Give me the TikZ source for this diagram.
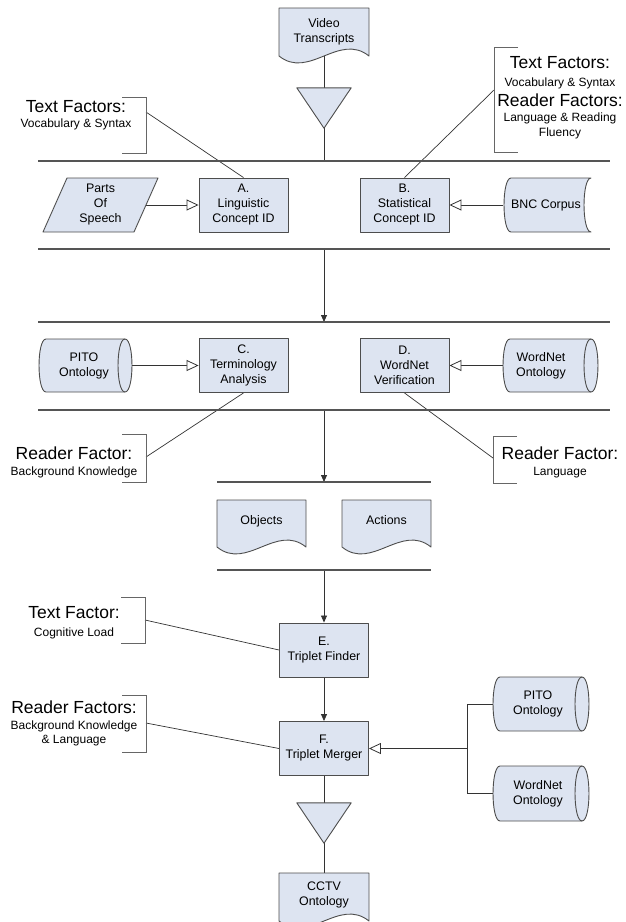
\documentclass[tikz,border=0pt]{standalone}
\usepackage{fontspec}
\setmainfont{Liberation Sans}
\usetikzlibrary{arrows.meta}
\definecolor{boxfill}{HTML}{DDE4F1}
\definecolor{boxedge}{HTML}{4D4D4D}
\definecolor{linec}{HTML}{333333}
\definecolor{sepc}{HTML}{555555}
\definecolor{brk}{HTML}{666666}
\pgfdeclarelayer{bg}
\pgfsetlayers{bg,main}
% direct access storage: xl, xr, yt, yb, r
\newcommand{\dasshape}[5]{%
  \path[shp] (#1,#3) -- (#2,#3) .. controls ({#2+1.33*#5},#3) and ({#2+1.33*#5},#4) .. (#2,#4)
    -- (#1,#4) .. controls ({#1-1.33*#5},#4) and ({#1-1.33*#5},#3) .. (#1,#3) -- cycle;
  \draw[draw=boxedge, line width=0.9pt] (#2,#3) .. controls ({#2-1.33*#5},#3) and ({#2-1.33*#5},#4) .. (#2,#4);}
% stored data: xl, xr, yt, yb, r
\newcommand{\storedshape}[5]{%
  \path[shp] (#1,#3) -- (#2,#3) .. controls ({#2-1.33*#5},#3) and ({#2-1.33*#5},#4) .. (#2,#4)
    -- (#1,#4) .. controls ({#1-1.33*#5},#4) and ({#1-1.33*#5},#3) .. (#1,#3) -- cycle;}
% document: xl, xr, yt, y0
\newcommand{\docshape}[4]{%
  \path[shp] (#1,#3) -- (#2,#3) -- (#2,#4) .. controls ({#2-(#2-#1)/3},{#4-24}) and ({#1+(#2-#1)/3},{#4+24}) .. (#1,#4) -- cycle;}
% annotation bracket: x-end, x-vertical, yt, yb
\newcommand{\annbracket}[4]{\draw[brack] (#1,#3) -- (#2,#3) -- (#2,#4) -- (#1,#4);}
\begin{document}
\begin{tikzpicture}[x=1pt,y=-1pt,
  shp/.style={draw=boxedge, fill=boxfill, line width=0.9pt, line join=round},
  proc/.style={shp, minimum width=89, minimum height=54, inner sep=0, align=center, font=\fontsize{12.4}{15}\selectfont},
  txt/.style={inner sep=0, align=center, font=\fontsize{12.4}{15}\selectfont},
  bigl/.style={inner sep=0, font=\fontsize{17.5}{20}\selectfont},
  smalll/.style={inner sep=0, font=\fontsize{12}{14}\selectfont},
  sep/.style={draw=sepc, line width=1.4pt},
  conn/.style={draw=linec, line width=0.8pt},
  flow/.style={conn, -{Triangle[length=7pt,width=6pt]}},
  inarr/.style={conn, -{Triangle[open, length=12pt, width=11pt, fill=white]}},
  brack/.style={draw=brk, line width=0.9pt},
  ann/.style={draw=linec, line width=0.7pt},
]
\useasboundingbox (0,0) rectangle (626,922);
\clip (0,0) rectangle (626,922);

% ---------- separators ----------
\coordinate (l1w) at (38,161);  \coordinate (l1e) at (610,161); \coordinate (l1m) at (324,161);
\coordinate (l2w) at (38,249);  \coordinate (l2e) at (610,249); \coordinate (l2m) at (324,249);
\coordinate (l3w) at (38,322);  \coordinate (l3e) at (610,322); \coordinate (l3m) at (324,322);
\coordinate (l4w) at (38,410);  \coordinate (l4e) at (610,410); \coordinate (l4m) at (324,410);
\coordinate (l5w) at (217,482); \coordinate (l5e) at (431,482); \coordinate (l5m) at (324,482);
\coordinate (l6w) at (217,570); \coordinate (l6e) at (431,570); \coordinate (l6m) at (324,570);
\foreach \s in {l1,l2,l3,l4,l5,l6} {\draw[sep] (\s w) -- (\s e);}

% ---------- top: video transcripts ----------
\docshape{279}{369}{8}{56}
\node[txt, minimum width=90, minimum height=48] (vt) at (324,32) {Video\\Transcripts};
\node[minimum width=54, minimum height=40, inner sep=0] (m1) at (324,108) {};
\path[shp] (m1.north west) -- (m1.north east) -- (m1.south) -- cycle;

% ---------- row 1 ----------
\path[shp] (67,178) -- (158,178) -- (134,232) -- (43,232) -- cycle;
\node[txt, minimum width=91] (pos) at (100.5,205) {Parts\\Of\\Speech};
\node[proc] (A) at (243.5,205) {A.\\Linguistic\\Concept ID};
\node[proc] (B) at (404.5,205) {B.\\Statistical\\Concept ID};
\storedshape{511}{591}{178}{232}{7}
\node[txt, minimum width=86] (bnc) at (546,205) {BNC Corpus};

% ---------- row 2 ----------
\dasshape{46}{125}{339}{392}{7}
\node[txt, minimum width=96] (pito1) at (84,365.5) {PITO\\Ontology};
\node[proc] (C) at (243.5,365.5) {C.\\Terminology\\Analysis};
\node[proc] (D) at (404.5,365.5) {D.\\WordNet\\Verification};
\dasshape{510}{591}{339}{392}{7}
\node[txt, minimum width=76] (wn1) at (541,365.5) {WordNet\\Ontology};

% ---------- row 3: objects/actions ----------
\docshape{217}{306}{500}{547}
\node[txt] (obj) at (261.5,521) {Objects};
\docshape{342}{431}{500}{547}
\node[txt] (act) at (386.5,520) {Actions};

% ---------- E, F ----------
\node[proc] (E) at (324,650) {E.\\Triplet Finder};
\node[proc] (F) at (324,748.5) {F.\\Triplet Merger};
\dasshape{500}{582}{677}{731}{7}
\node[txt, minimum width=90] (pito2) at (538,704) {PITO\\Ontology};
\dasshape{500}{582}{766}{821}{7}
\node[txt, minimum width=90] (wn2) at (538,793.5) {WordNet\\Ontology};
\coordinate (jn) at (467,748.5);

\node[minimum width=54, minimum height=40, inner sep=0] (m2) at (324,823) {};
\path[shp] (m2.north west) -- (m2.north east) -- (m2.south) -- cycle;
\docshape{279}{369}{873}{921}
\node[txt, minimum width=90, minimum height=44] (cctv) at (324,895) {CCTV\\Ontology};

% ---------- annotations ----------
\annbracket{122}{146}{97}{153}
\coordinate (an1) at (146,112);
\node[bigl] (an1a) at (76,107) {Text Factors:};
\node[smalll] (an1b) at (76,124) {Vocabulary \& Syntax};

\annbracket{518}{494}{47}{152}
\coordinate (an2) at (494,90);
\node[bigl] (an2a) at (560,63) {Text Factors:};
\node[smalll] (an2b) at (560,83) {Vocabulary \& Syntax};
\node[bigl] (an2c) at (560,100) {Reader Factors:};
\node[smalll] (an2d) at (560,118) {Language \& Reading};
\node[smalll] (an2e) at (560,133) {Fluency};

\annbracket{122}{146}{434}{482}
\coordinate (an3) at (146,457);
\node[bigl] (an3a) at (74,453) {Reader Factor:};
\node[smalll] (an3b) at (74,472) {Background Knowledge};

\annbracket{517}{493}{436}{483}
\coordinate (an4) at (493,458);
\node[bigl] (an4a) at (560,453) {Reader Factor:};
\node[smalll] (an4b) at (560,473) {Language};

\annbracket{121}{145}{597}{643}
\coordinate (an5) at (145,620);
\node[bigl] (an5a) at (74,613) {Text Factor:};
\node[smalll] (an5b) at (74,633) {Cognitive Load};

\annbracket{122}{146}{695}{752}
\coordinate (an6) at (146,723);
\node[bigl] (an6a) at (74,707) {Reader Factors:};
\node[smalll] (an6b) at (74,726) {Background Knowledge};
\node[smalll] (an6c) at (74,741) {\& Language};

% ---------- connectors ----------
\begin{pgfonlayer}{bg}
\draw[conn] (vt.south) -- (m1.north);
\draw[conn] (m1.south) -- (l1m);
\draw[inarr] (pos.east) -- (A.west);
\draw[inarr] (bnc.west) -- (B.east);
\draw[flow] (l2m) -- (l3m);
\draw[inarr] (pito1.east) -- (C.west);
\draw[inarr] (wn1.west) -- (D.east);
\draw[flow] (l4m) -- (l5m);
\draw[flow] (l6m) -- (E.north);
\draw[flow] (E.south) -- (F.north);
\draw[conn] (pito2.west) -| (jn);
\draw[conn] (wn2.west) -| (jn);
\draw[inarr] (jn) -- (F.east);
\draw[conn] (F.south) -- (m2.north);
\draw[conn] (m2.south) -- (cctv.north);
\draw[ann] (an1) -- (A.north);
\draw[ann] (an2) -- (B.north);
\draw[ann] (C.south) -- (an3);
\draw[ann] (D.south) -- (an4);
\draw[ann] (an5) -- (E.west);
\draw[ann] (an6) -- (F.west);
\end{pgfonlayer}
\end{tikzpicture}
\end{document}
